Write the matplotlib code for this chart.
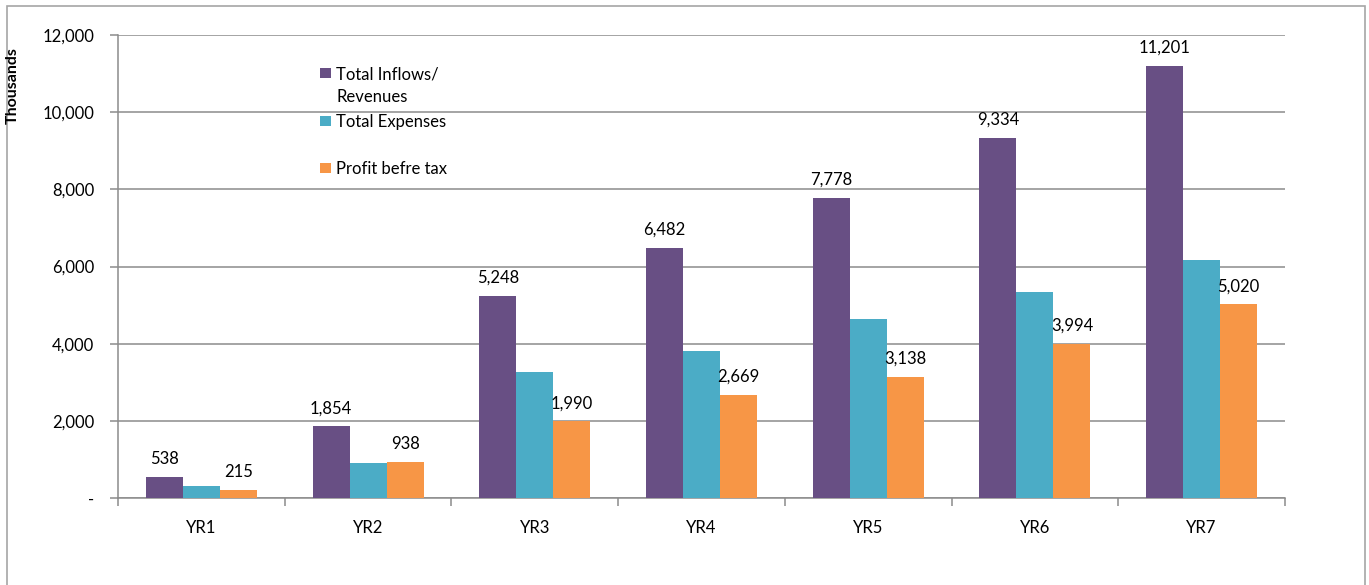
import matplotlib
matplotlib.use("Agg")
import matplotlib.pyplot as plt
import numpy as np
from matplotlib.patches import Rectangle
from matplotlib.ticker import FuncFormatter, FixedLocator

plt.rcParams["font.family"] = ["Lato", "DejaVu Sans"]

years = ["YR1", "YR2", "YR3", "YR4", "YR5", "YR6", "YR7"]
inflows = [538, 1854, 5248, 6482, 7778, 9334, 11201]
expenses = [323, 916, 3258, 3813, 4640, 5340, 6181]
profit = [215, 938, 1990, 2669, 3138, 3994, 5020]

series_names = ["Total Inflows/\nRevenues", "Total Expenses", "Profit befre tax"]
colors = ["#684F84", "#4BACC6", "#F79646"]
grid_col = "#8C8C8C"

W, H = 1369, 585
fig = plt.figure(figsize=(W / 100, H / 100), dpi=100)
ax = fig.add_axes([118 / W, 1 - 498 / H, (1285 - 118) / W, (498 - 35) / H])

x = np.arange(len(years))
w = 0.222
series = [inflows, expenses, profit]
for i, (vals, col) in enumerate(zip(series, colors)):
    bars = ax.bar(x + (i - 1) * w, vals, width=w, color=col, linewidth=0, zorder=3)
    if i == 1:
        continue  # expenses carry no labels
    for b, v in zip(bars, vals):
        ax.annotate(f"{v:,}", (b.get_x() + b.get_width() / 2, v),
                    xytext=(0, 13), textcoords="offset points",
                    ha="center", va="center", fontsize=12)

ax.set_xlim(-0.5, len(years) - 0.5)
ax.set_ylim(0, 12000)
ax.set_yticks(np.arange(0, 12001, 2000))
ax.yaxis.set_major_formatter(FuncFormatter(lambda v, p: "-" if v == 0 else f"{int(v):,}"))
ax.yaxis.grid(True, color=grid_col, linewidth=1.1, zorder=0)
ax.set_axisbelow(True)

ax.set_xticks(x)
ax.set_xticklabels(years)
ax.xaxis.set_minor_locator(FixedLocator(np.arange(-0.5, len(years), 1.0)))
ax.tick_params(axis="x", which="major", length=0, pad=16, labelsize=12)
ax.tick_params(axis="x", which="minor", length=6, color=grid_col, width=1.1)
ax.tick_params(axis="y", length=6, color=grid_col, width=1.1, pad=11, labelsize=12)

for s in ["top", "right"]:
    ax.spines[s].set_visible(False)
for s in ["left", "bottom"]:
    ax.spines[s].set_color(grid_col)
    ax.spines[s].set_linewidth(1.1)

fig.text(13 / W, 1 - 86 / H, "Thousands", rotation=90, ha="center", va="center",
         fontsize=11.5, fontweight="bold")

# hand-made legend, square lines up with the first text line
legend_rows = [73, 121, 168]
for name, col, yy in zip(series_names, colors, legend_rows):
    fig.patches.append(Rectangle((320 / W, 1 - (yy + 5) / H), 11 / W, 10 / H,
                                 transform=fig.transFigure, facecolor=col, edgecolor="none"))
    fig.text(336 / W, 1 - (yy - 7) / H, name, ha="left", va="top",
             fontsize=12, linespacing=1.55)

fig.patches.append(Rectangle((7 / W, -0.02), (1365 - 7) / W, 1.02 - 6 / H,
                             transform=fig.transFigure, fill=False, edgecolor="#A6A6A6",
                             linewidth=1.2))

fig.savefig("out.png", dpi=100)
